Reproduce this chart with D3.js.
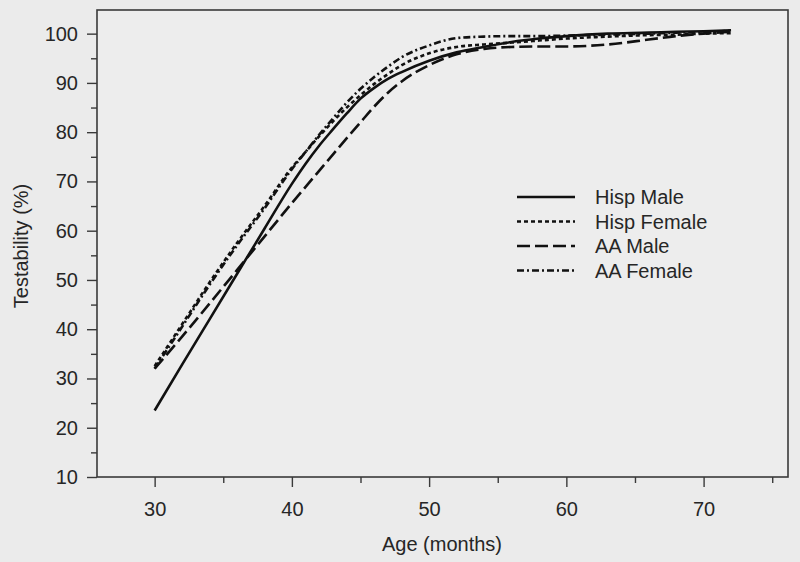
<!DOCTYPE html>
<html><head><meta charset="utf-8">
<script src="https://cdn.jsdelivr.net/npm/d3@7"></script>
<style>
html,body{margin:0;padding:0;background:#ebebeb;}
svg{display:block;font-family:Arial,"Liberation Sans",sans-serif;}
</style></head><body>
<svg id="c" width="800" height="562"></svg>
<script>
// Data (age in months, testability %)
const ages = [30,32,34,36,38,40,41,42,43,44,45,46,47,48,50,52,54,56,58,60,63,66,68,70,72];
const hispMale   = [23.5,32.8,42,51.2,60.4,69.5,73.6,77.3,80.6,83.8,86.8,89,90.8,92.2,94.5,96.2,97.3,98.3,99,99.5,100,100.2,100.4,100.5,100.7];
const hispFemale = [32.5,41,49.5,57.5,65,72.8,76,79.2,82.2,85,87.5,89.8,91.8,93.6,96,97.3,97.8,98.2,98.6,99,99.4,99.7,99.8,100,100.1];
const aaMale     = [32,38.5,45.2,52,58.8,65.6,68.9,72.2,75.5,78.8,82,85.2,88,90.3,93.6,95.8,96.9,97.3,97.4,97.4,97.8,98.8,99.5,100,100.4];
const aaFemale   = [32,40.5,49,57,64.5,72.5,76,79.5,82.8,86,88.8,91.2,93.3,95.2,97.6,99.1,99.4,99.5,99.5,99.6,99.8,100,100.2,100.3,100.6];
const seriesNames = ["Hisp Male","Hisp Female","AA Male","AA Female"];
const seriesValues = [hispMale, hispFemale, aaMale, aaFemale];
const dashes = [null, "4,3", "13,5", "7,3,2,3"];
const xTicks = [30,40,50,60,70];
const xMinor = [35,45,55,65,75];
const yTicks = [10,20,30,40,50,60,70,80,90,100];
const yMinor = [15,25,35,45,55,65,75,85,95];

const svg = d3.select("#c");
const L = 97, R = 788, T = 10, B = 477;
const x = d3.scaleLinear().domain([25.8, 76.15]).range([L, R]);
const y = d3.scaleLinear().domain([10, 104.8]).range([B, T]);
const ink = "#262626";

// frame
svg.append("rect").attr("x",L).attr("y",T).attr("width",R-L).attr("height",B-T)
  .attr("fill","#ededed").attr("stroke","#3a3a3a").attr("stroke-width",1.6);

// y axis
const gy = svg.append("g").attr("transform",`translate(${L},0)`);
gy.call(d3.axisLeft(y).tickValues(yTicks).tickSize(10).tickPadding(9).tickFormat(d3.format("d")));
const gym = svg.append("g").attr("transform",`translate(${L},0)`);
gym.call(d3.axisLeft(y).tickValues(yMinor).tickSize(6).tickFormat(""));
// x axis
const gx = svg.append("g").attr("transform",`translate(0,${B})`);
gx.call(d3.axisBottom(x).tickValues(xTicks).tickSize(10).tickPadding(15).tickFormat(d3.format("d")));
const gxm = svg.append("g").attr("transform",`translate(0,${B})`);
gxm.call(d3.axisBottom(x).tickValues(xMinor).tickSize(6).tickFormat(""));
svg.selectAll(".domain").remove();
svg.selectAll(".tick line").attr("stroke","#3a3a3a").attr("stroke-width",1.4);
svg.selectAll(".tick text").attr("fill",ink).style("font-size","20px").style("font-family","Arial, 'Liberation Sans', sans-serif");

// axis titles
svg.append("text").attr("x",442).attr("y",551).attr("text-anchor","middle")
  .attr("fill",ink).style("font-size","20px").text("Age (months)");
svg.append("text").attr("transform","translate(28,246) rotate(-90)").attr("text-anchor","middle")
  .attr("fill",ink).style("font-size","20px").text("Testability (%)");

// lines
const line = d3.line().curve(d3.curveMonotoneX);
seriesValues.forEach((vals,i)=>{
  const pts = ages.map((a,j)=>[x(a), y(vals[j])]);
  svg.append("path").attr("d", line(pts)).attr("fill","none")
    .attr("stroke","#111").attr("stroke-width", 2.6)
    .attr("stroke-dasharray", dashes[i]);
});

// legend
const legY = [197, 221.5, 246, 270.5];
seriesNames.forEach((n,i)=>{
  svg.append("line").attr("x1",517).attr("x2",575).attr("y1",legY[i]).attr("y2",legY[i])
    .attr("stroke","#111").attr("stroke-width",2.4).attr("stroke-dasharray",dashes[i]);
  svg.append("text").attr("x",595).attr("y",legY[i]).attr("dy","0.36em")
    .attr("fill",ink).style("font-size","20px").text(n);
});
</script>
</body></html>
